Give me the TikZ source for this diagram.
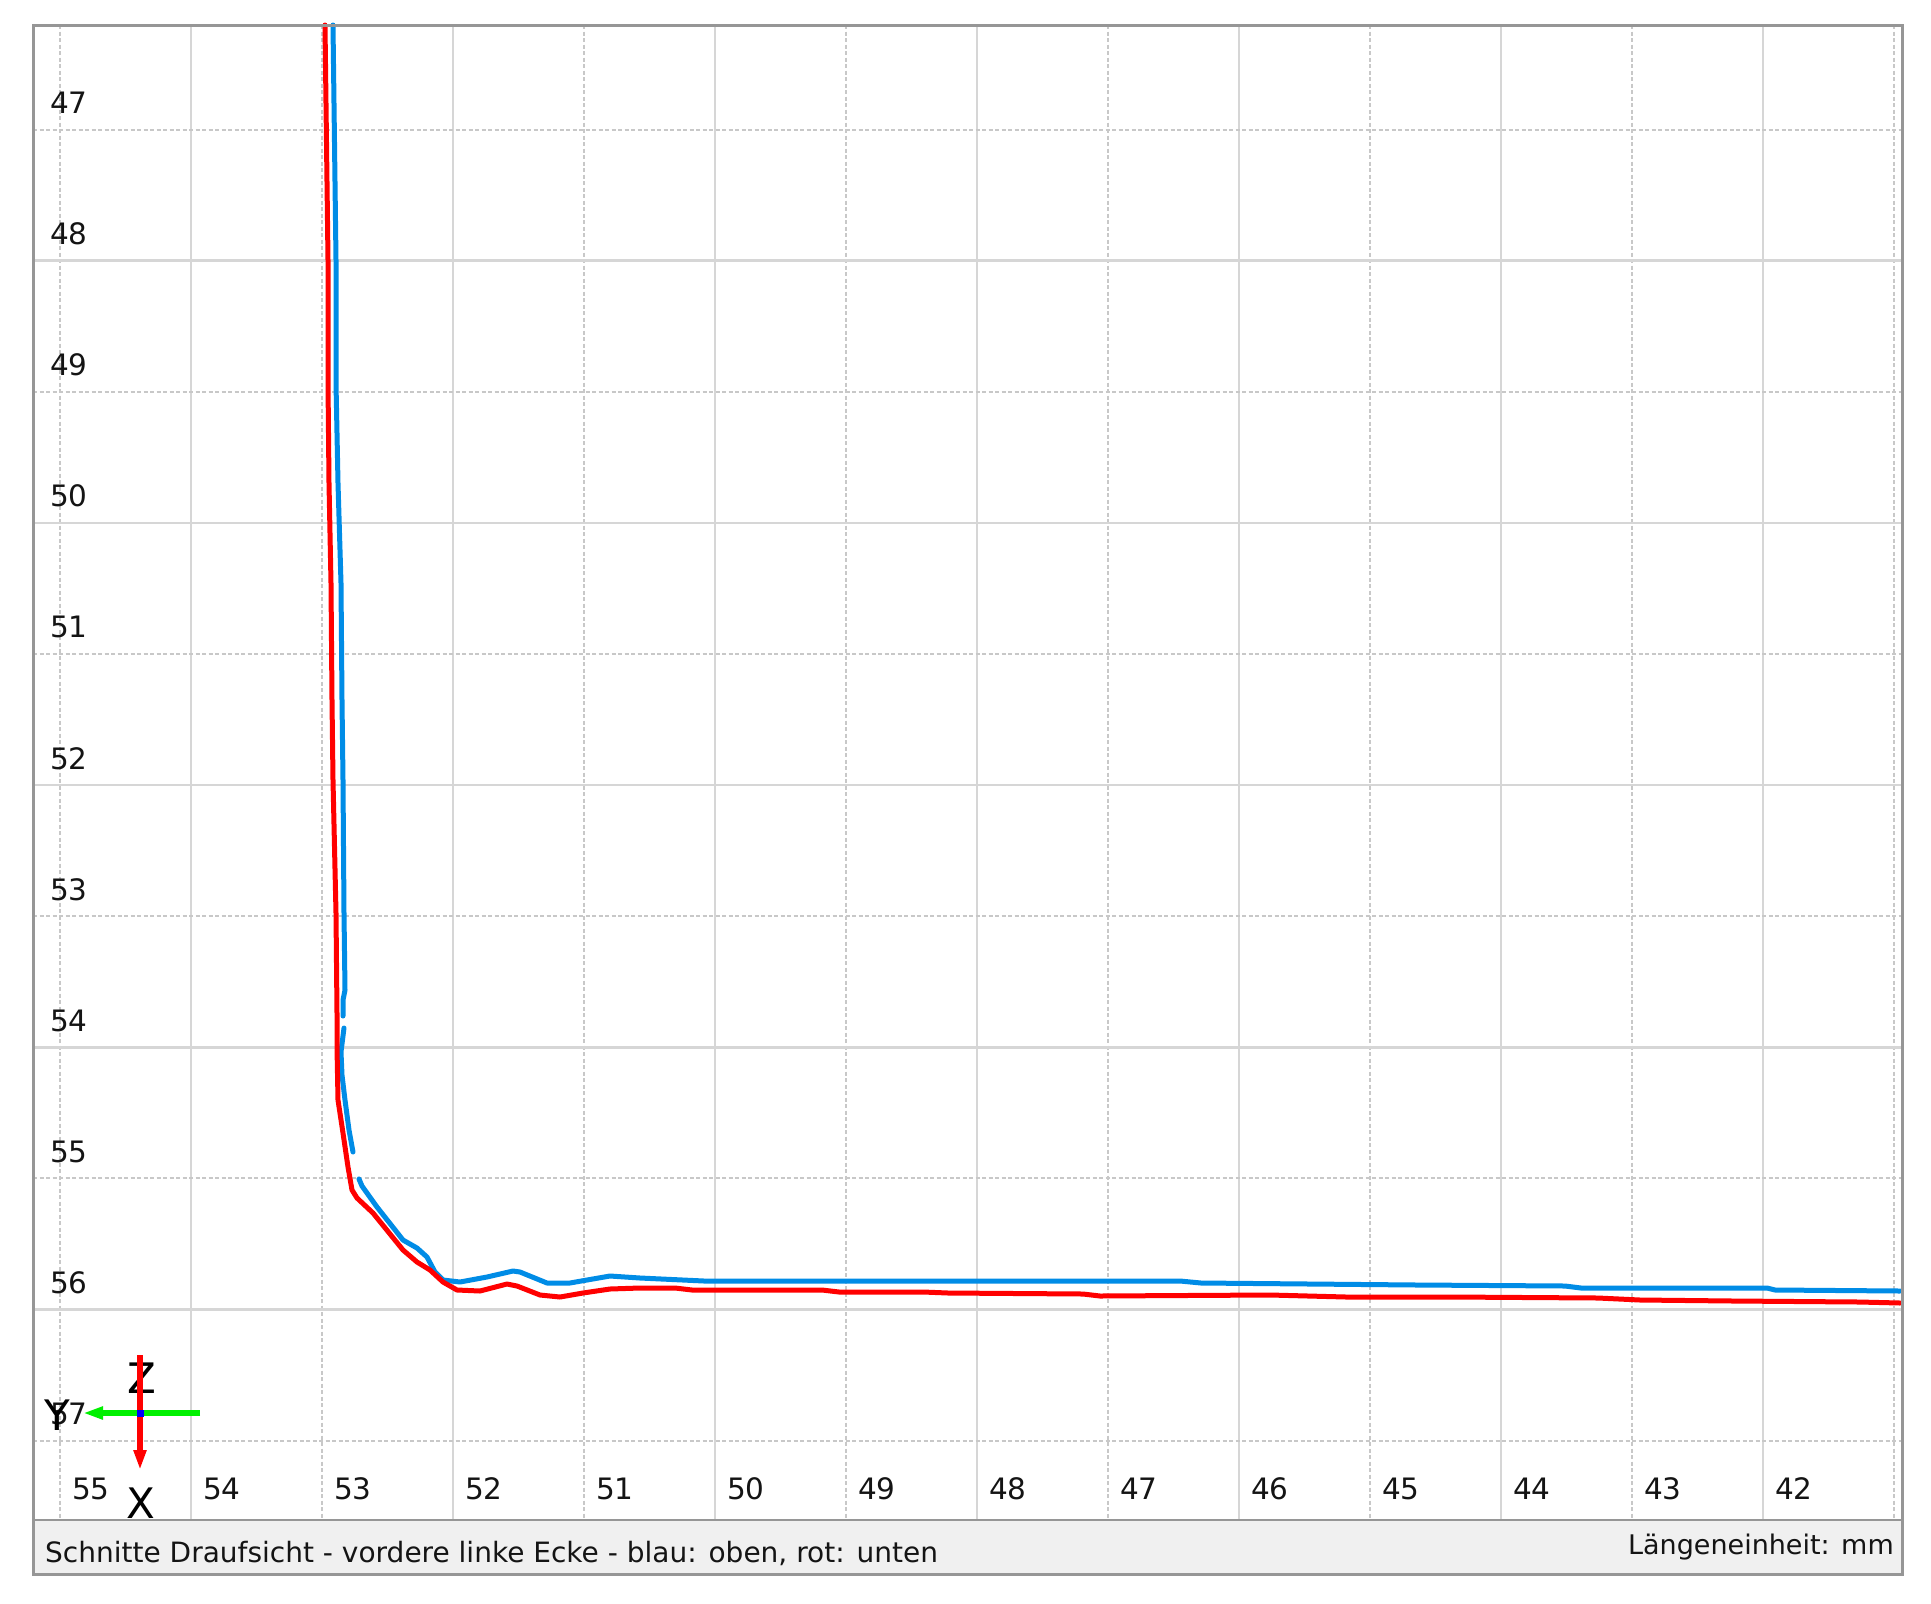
\documentclass[tikz,border=0pt]{standalone}
\usepackage{fontspec}
\setmainfont{DejaVu Sans}
\usetikzlibrary{arrows.meta}
\definecolor{gridc}{RGB}{214,214,214}
\definecolor{gdotc}{RGB}{200,200,200}
\definecolor{framec}{RGB}{150,150,150}
\definecolor{capbg}{RGB}{240,240,240}
\definecolor{bluec}{RGB}{0,140,230}
\definecolor{redc}{RGB}{255,0,0}
\definecolor{greenc}{RGB}{0,240,0}
\definecolor{axblue}{RGB}{0,0,255}
\definecolor{txt}{RGB}{20,20,20}
\begin{document}
\begin{tikzpicture}[x=1pt,y=-1pt,
  gsolid/.style={draw=gridc,line width=2.6pt},
  gdot/.style={draw=gdotc,line width=2pt,dash pattern=on 4pt off 2.5pt},
  ticklab/.style={font=\fontsize{29.5}{34}\selectfont,text=txt,inner sep=0pt,anchor=base west},
  caplab/.style={font=\fontsize{28}{32}\selectfont,text=txt,inner sep=0pt},
  axlab/.style={font=\fontsize{42}{46}\selectfont,text=black,inner sep=0pt},
  curve/.style={line width=5pt,line join=round,line cap=round}]
\useasboundingbox (0,0) rectangle (1931,1604);
\fill[white] (0,0) rectangle (1931,1604);
% caption bar
\fill[capbg] (33,1520) rectangle (1902,1574);
% grid
\foreach \k in {0,...,14}{
  \ifodd\k \def\gs{gsolid}\else\def\gs{gdot}\fi
  \draw[\gs] (60+131*\k,25) -- (60+131*\k,1520);
}
\foreach \k in {0,...,10}{
  \ifodd\k \def\gs{gsolid}\else\def\gs{gdot}\fi
  \draw[\gs] (33,129.5+131.1*\k) -- (1902,129.5+131.1*\k);
}
% tick labels
\foreach \k in {0,...,10}{
  \pgfmathtruncatemacro\lab{47+\k}
  \node[ticklab] (yl\k) at (50,113.5+131.1*\k) {\lab};
}
\foreach \k in {0,...,13}{
  \pgfmathtruncatemacro\lab{55-\k}
  \node[ticklab] (xl\k) at (72+131*\k,1499) {\lab};
}
% blue curve (oben)
\draw[curve,bluec] (333,25) -- (336,260) -- (336,383) -- (338,483) -- (341,583) -- (342,700)
  -- (343,780) -- (344,913) -- (345,990) -- (343,1000) -- (343,1016);
\draw[curve,bluec] (344,1028) -- (341,1052) -- (342,1075) -- (345,1100) -- (349,1130) -- (353,1152);
\draw[curve,bluec] (359,1179) -- (362,1186) -- (377,1207) -- (403,1240) -- (417,1248) -- (427,1257)
  -- (435,1272) -- (443,1280) -- (460,1282) -- (487,1277) -- (513,1271) -- (520,1272)
  -- (547,1283) -- (570,1283) -- (587,1280) -- (610,1276) -- (640,1278) -- (704,1281)
  -- (1180,1281) -- (1201,1283) -- (1417,1285) -- (1565,1286) -- (1581,1288) -- (1767,1288)
  -- (1775,1290) -- (1900,1291);
% red curve (unten)
\draw[curve,redc] (325,25) -- (328,260) -- (328,383) -- (329,483) -- (331,583) -- (332,700)
  -- (333,780) -- (336,913) -- (337,1013) -- (337,1047) -- (338,1100) -- (343,1133)
  -- (348,1167) -- (352,1190) -- (357,1198) -- (373,1213) -- (403,1250) -- (417,1262)
  -- (430,1270) -- (443,1282) -- (457,1290) -- (480,1291) -- (507,1284) -- (517,1286)
  -- (540,1295) -- (560,1297) -- (583,1293) -- (610,1289) -- (640,1288) -- (675,1288)
  -- (692,1290) -- (822,1290) -- (839,1292) -- (923,1292) -- (948,1293) -- (1083,1294)
  -- (1100,1296) -- (1270,1295) -- (1346,1297) -- (1451,1297) -- (1598,1298) -- (1640,1300)
  -- (1733,1301) -- (1859,1302) -- (1900,1303);
% axis indicator
\node[axlab] (zlab) at (142,1378) {Z};
\node[axlab] (ylab) at (57,1415) {Y};
\node[axlab] (xlab) at (141,1503) {X};
\coordinate (ax0) at (140,1413);
\coordinate (gstart) at (200,1413);
\coordinate (gtip) at (83,1413);
\coordinate (rstart) at (140,1355);
\coordinate (rtip) at (140,1470);
\draw[greenc,line width=6.5pt,-{Triangle[length=20pt,width=12pt]}] (gstart) -- (gtip);
\draw[redc,line width=6.5pt,-{Triangle[length=20pt,width=12pt]}] (rstart) -- (rtip);
\fill[axblue] (136.5,1409.5) rectangle (143.5,1416.5);
% frame
\draw[framec,line width=2.6pt] (33,1520) -- (1902,1520);
\draw[framec,line width=3pt] (33,25) rectangle (1902,1574);
% caption texts
\node[caplab,anchor=base west] (cap) at (45,1562) {Schnitte Draufsicht - vordere linke Ecke - blau: oben, rot: unten};
\node[caplab,anchor=base east,font=\fontsize{27}{31}\selectfont] (unit) at (1894,1554) {Längeneinheit: mm};
\end{tikzpicture}
\end{document}
